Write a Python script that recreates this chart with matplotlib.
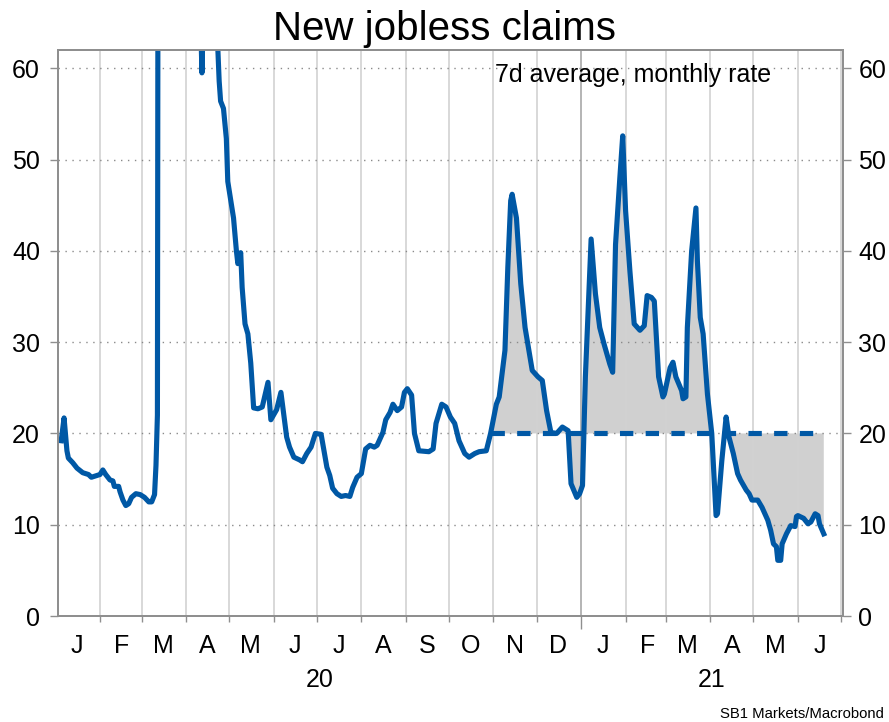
import matplotlib
matplotlib.use("Agg")
import matplotlib.pyplot as plt
import matplotlib.dates as mdates
import matplotlib.transforms as mtransforms
from matplotlib.ticker import FuncFormatter
import numpy as np
import pandas as pd

plt.rcParams['font.family'] = ['Liberation Sans', 'DejaVu Sans']

# ---------------- data ----------------
dates = [
    "2020-01-05", "2020-01-07", "2020-01-09", "2020-01-10", "2020-01-13", "2020-01-16",
    "2020-01-20", "2020-01-24", "2020-01-26", "2020-01-30", "2020-02-01", "2020-02-03",
    "2020-02-05", "2020-02-08", "2020-02-10", "2020-02-11", "2020-02-14", "2020-02-15",
    "2020-02-17", "2020-02-19", "2020-02-21", "2020-02-23", "2020-02-26", "2020-02-29",
    "2020-03-03", "2020-03-06", "2020-03-08", "2020-03-10", "2020-03-11", "2020-03-12",
    "2020-03-13", "2020-03-20", "2020-03-27", "2020-04-03", "2020-04-08", "2020-04-11",
    "2020-04-12", "2020-04-13", "2020-04-17", "2020-04-21", "2020-04-24", "2020-04-25",
    "2020-04-27", "2020-04-29", "2020-04-30", "2020-05-04", "2020-05-06", "2020-05-07",
    "2020-05-09", "2020-05-10", "2020-05-12", "2020-05-14", "2020-05-16", "2020-05-18",
    "2020-05-21", "2020-05-24", "2020-05-28", "2020-05-30", "2020-06-03", "2020-06-06",
    "2020-06-10", "2020-06-12", "2020-06-15", "2020-06-19", "2020-06-21", "2020-06-24",
    "2020-06-27", "2020-06-30", "2020-07-04", "2020-07-08", "2020-07-10", "2020-07-12",
    "2020-07-15", "2020-07-18", "2020-07-21", "2020-07-24", "2020-07-26", "2020-07-29",
    "2020-08-01", "2020-08-04", "2020-08-07", "2020-08-10", "2020-08-12", "2020-08-16",
    "2020-08-18", "2020-08-21", "2020-08-23", "2020-08-26", "2020-08-29", "2020-08-31",
    "2020-09-02", "2020-09-05", "2020-09-07", "2020-09-10", "2020-09-17", "2020-09-20",
    "2020-09-22", "2020-09-26", "2020-09-29", "2020-10-02", "2020-10-05", "2020-10-08",
    "2020-10-12", "2020-10-15", "2020-10-19", "2020-10-22", "2020-10-27", "2020-10-30",
    "2020-11-03", "2020-11-05", "2020-11-09", "2020-11-11", "2020-11-13", "2020-11-14",
    "2020-11-17", "2020-11-20", "2020-11-23", "2020-11-28", "2020-12-02", "2020-12-05",
    "2020-12-08", "2020-12-11", "2020-12-15", "2020-12-19", "2020-12-23", "2020-12-25",
    "2020-12-29", "2020-12-31", "2021-01-02", "2021-01-04", "2021-01-08", "2021-01-11",
    "2021-01-14", "2021-01-17", "2021-01-21", "2021-01-23", "2021-01-25", "2021-01-28",
    "2021-01-30", "2021-02-01", "2021-02-04", "2021-02-07", "2021-02-11", "2021-02-14",
    "2021-02-16", "2021-02-19", "2021-02-21", "2021-02-24", "2021-02-27", "2021-02-28",
    "2021-03-04", "2021-03-06", "2021-03-08", "2021-03-12", "2021-03-13", "2021-03-15",
    "2021-03-16", "2021-03-19", "2021-03-22", "2021-03-23", "2021-03-25", "2021-03-27",
    "2021-03-30", "2021-04-02", "2021-04-05", "2021-04-06", "2021-04-09", "2021-04-12",
    "2021-04-14", "2021-04-17", "2021-04-20", "2021-04-22", "2021-04-26", "2021-04-28",
    "2021-04-30", "2021-05-04", "2021-05-07", "2021-05-11", "2021-05-13", "2021-05-15",
    "2021-05-17", "2021-05-18", "2021-05-20", "2021-05-21", "2021-05-24", "2021-05-27",
    "2021-05-30", "2021-05-31", "2021-06-01", "2021-06-05", "2021-06-08", "2021-06-10",
    "2021-06-13", "2021-06-15", "2021-06-16", "2021-06-19",
]
claims = [
    19.2, 21.7, 18.1, 17.3, 16.8, 16.2,
    15.7, 15.5, 15.2, 15.4, 15.5, 16.0,
    15.5, 14.9, 14.8, 14.2, 14.2, 13.6,
    12.7, 12.1, 12.3, 13.0, 13.4, 13.3,
    13.0, 12.5, 12.5, 13.3, 16.5, 22.0,
    150.0, 220.0, 150.0, 90.0, 72.0, 66.0,
    59.5, 66.0, 80.0, 70.0, 58.6, 56.4,
    55.6, 52.3, 47.6, 43.6, 40.0, 38.6,
    39.8, 36.0, 32.0, 30.9, 27.7, 22.8,
    22.7, 22.9, 25.6, 21.5, 22.6, 24.5,
    19.6, 18.5, 17.4, 17.1, 16.9, 17.8,
    18.5, 20.0, 19.9, 16.3, 15.4, 14.0,
    13.4, 13.1, 13.2, 13.1, 14.1, 15.2,
    15.6, 18.3, 18.7, 18.5, 18.7, 20.1,
    21.5, 22.3, 23.2, 22.5, 22.9, 24.5,
    24.9, 24.2, 20.0, 18.1, 18.0, 18.3,
    21.1, 23.2, 22.9, 21.8, 21.1, 19.2,
    17.8, 17.4, 17.8, 18.0, 18.1, 20.0,
    23.2, 24.0, 29.1, 38.2, 45.5, 46.2,
    43.6, 36.4, 31.6, 26.9, 26.2, 25.8,
    22.5, 20.1, 20.0, 20.7, 20.3, 14.5,
    13.0, 13.4, 14.3, 26.2, 41.3, 35.3,
    31.6, 29.8, 27.6, 26.7, 40.7, 48.0,
    52.6, 44.4, 37.8, 32.0, 31.3, 31.8,
    35.1, 34.9, 34.5, 26.2, 24.0, 24.3,
    27.2, 27.8, 26.2, 24.7, 23.8, 24.0,
    31.6, 40.0, 44.7, 38.9, 32.7, 30.9,
    24.3, 20.0, 11.0, 11.2, 17.0, 21.8,
    19.6, 17.8, 15.6, 14.9, 13.8, 13.4,
    12.7, 12.7, 11.9, 10.5, 9.4, 7.9,
    7.6, 6.1, 6.1, 7.9, 9.0, 9.9,
    9.8, 10.9, 11.0, 10.7, 10.1, 10.3,
    11.2, 11.0, 10.1, 9.0,
]

threshold = 20
band_start = "2020-10-30"
band_end = "2021-06-19"
gap_start = "2021-04-03"   # no shading in the early-April dip
gap_end = "2021-04-11"

x_start = "2020-01-02 18:00"
x_end = "2021-07-02 10:00"
y_ticks = [0, 10, 20, 30, 40, 50, 60]
y_max = 62
year_labels = ["20", "21"]

title = "New jobless claims"
note = "7d average, monthly rate"
source = "SB1 Markets/Macrobond"

# ---------------- style ----------------
BLUE = "#0058A5"
FILL = "#d0d0d0"
SPINE = "#8f8f8f"
GRID_V = "#d2d2d2"
GRID_H = "#8a8a8a"
FS = 18
LW = 3.7

x = pd.to_datetime(dates)
y = np.array(claims)

fig = plt.figure(figsize=(8.89, 7.22), dpi=100)
ax = fig.add_axes([0.0652, 0.1468, 0.8831, 0.7839])
ax.set_axisbelow(True)

xmin, xmax = pd.Timestamp(x_start), pd.Timestamp(x_end)
ax.set_xlim(xmin, xmax)
ax.set_ylim(0, y_max)

# shaded area between series and threshold
bs, be = pd.Timestamp(band_start), pd.Timestamp(band_end)
gs, ge = pd.Timestamp(gap_start), pd.Timestamp(gap_end)
sel = (x >= bs) & (x <= be)
xs, ys = x[sel], y[sel]
mask = ~((xs >= gs) & (xs <= ge))
ax.fill_between(xs, ys, threshold, where=mask, color=FILL, linewidth=0, zorder=0.3)

# threshold dashed line
ax.plot([bs, be], [threshold, threshold], color=BLUE, lw=LW,
        dashes=(2.6, 2.4), dash_capstyle='butt', zorder=2)

# main line
ax.plot(x, y, color=BLUE, lw=LW, zorder=3, solid_joinstyle='round')

# y axis
ax.set_yticks(y_ticks)
ax.yaxis.grid(True, color=GRID_H, linestyle=(0, (1, 4)), lw=1.0)
ax.tick_params(axis='y', which='major', direction='out', length=6, width=1,
               color=SPINE, labelsize=FS, pad=7, left=True, right=False)
ax2 = ax.twinx()
ax2.set_ylim(0, y_max)
ax2.set_yticks(y_ticks)
ax2.tick_params(axis='y', which='major', direction='out', length=6, width=1,
                color=SPINE, labelsize=FS, pad=5)
for a in (ax, ax2):
    for s in a.spines.values():
        s.set_color(SPINE)
        s.set_linewidth(1.3)

# x axis: month boundaries (grid + ticks), month letters at mid-month
ax.xaxis.set_major_locator(mdates.MonthLocator())
ax.xaxis.set_major_formatter(FuncFormatter(lambda v, p: ""))
ax.xaxis.set_minor_locator(mdates.MonthLocator(bymonthday=16))
ax.xaxis.set_minor_formatter(FuncFormatter(lambda v, p: mdates.num2date(v).strftime('%b')[0]))
ax.xaxis.grid(True, which='major', color=GRID_V, lw=1.2, linestyle='-')
ax.tick_params(axis='x', which='major', direction='out', length=4, width=1, color=SPINE)
ax.tick_params(axis='x', which='minor', length=0, labelsize=FS, pad=13)

fig.canvas.draw()
# emphasise year boundary
for tick in ax.xaxis.get_major_ticks():
    d = mdates.num2date(tick.get_loc())
    if d.month == 1 and d.day == 1:
        tick.tick1line.set_markersize(9)
        tick.gridline.set_color("#a8a8a8")

# year labels centered on visible part of each year
trans = mtransforms.blended_transform_factory(ax.transData, ax.transAxes)
for lab in year_labels:
    yr = 2000 + int(lab)
    a = max(xmin, pd.Timestamp(f"{yr}-01-01"))
    b = min(xmax, pd.Timestamp(f"{yr + 1}-01-01"))
    mid = a + (b - a) / 2
    ax.text(mid, -0.1254, lab, transform=trans, ha='center', va='baseline', fontsize=FS)

ax.text(0.908, 0.9435, note, transform=ax.transAxes, ha='right', va='baseline', fontsize=FS)
fig.text(0.5, 0.9446, title, ha='center', va='baseline', fontsize=29)
fig.text(0.9944, 0.0055, source, ha='right', va='baseline', fontsize=10.7)

fig.savefig("out.png", dpi=100)
